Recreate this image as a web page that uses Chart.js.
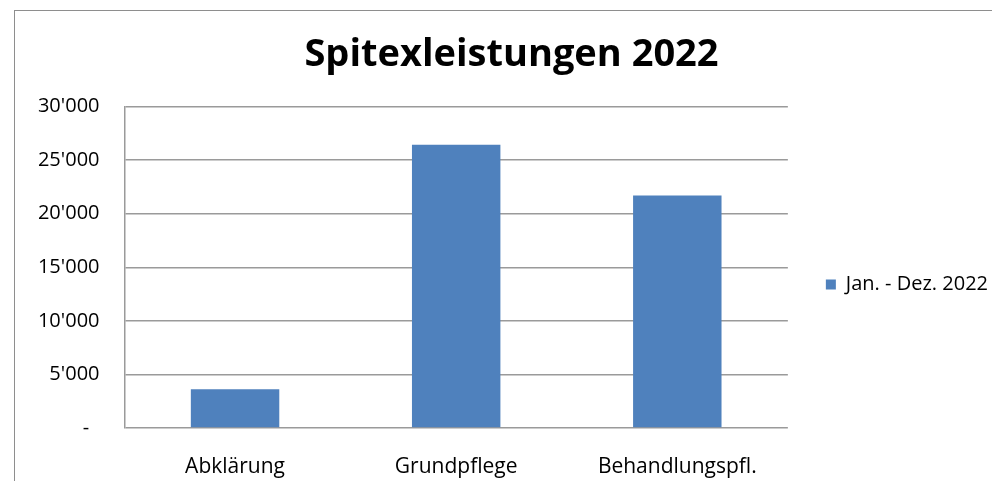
<!DOCTYPE html>
<html>
<head>
<meta charset="utf-8">
<script src="https://cdn.jsdelivr.net/npm/chart.js@4.4.1/dist/chart.umd.min.js"></script>
<style>
  html, body { margin: 0; padding: 0; background: #fff; overflow: hidden; }
  #frame { position: absolute; left: 14px; top: 10px; width: 1000px; height: 500px; border: 1px solid #8e8e8e; }
  #wrap { position: absolute; left: 0; top: 0; width: 1026px; height: 481px; }
</style>
</head>
<body>
<div id="frame"></div>
<div id="wrap"><canvas id="chart"></canvas></div>
<script>
const categories = ["Abklärung", "Grundpflege", "Behandlungspfl."];
const seriesLabel = "Jan. - Dez. 2022";
const values = [3620, 26450, 21700];
const yTicks = [0, 5000, 10000, 15000, 20000, 25000, 30000];

function formatThousands(v) {
    if (v === 0) return "-  ";
    return String(v).replace(/\B(?=(\d{3})+(?!\d))/g, "'");
}

const fontFamily = "'Open Sans', 'Noto Sans', sans-serif";

new Chart(document.getElementById("chart"), {
    type: "bar",
    data: {
        labels: categories,
        datasets: [{
            label: seriesLabel,
            data: values,
            backgroundColor: "#4f81bd",
            borderWidth: 0,
            barPercentage: 0.4,
            categoryPercentage: 1
        }]
    },
    options: {
        responsive: true,
        maintainAspectRatio: false,
        animation: false,
        layout: { padding: { left: 25, right: 28, top: 0, bottom: 0 } },
        plugins: {
            title: {
                display: true,
                text: "Spitexleistungen 2022",
                color: "#000",
                font: { family: fontFamily, size: 38, weight: "bold" },
                padding: { top: 32, bottom: 29 }
            },
            legend: {
                position: "right",
                // empty legend title only pushes the entry down to its place
                title: {
                    display: true,
                    text: " ",
                    font: { family: fontFamily, size: 10 },
                    padding: { top: 0, bottom: 76 }
                },
                labels: {
                    color: "#000",
                    boxWidth: 10,
                    boxHeight: 10,
                    padding: 38,
                    font: { family: fontFamily, size: 20 }
                }
            },
            tooltip: { enabled: false }
        },
        scales: {
            x: {
                grid: { display: false },
                border: { display: false },
                afterFit: axis => { axis.height = 53; },
                ticks: { color: "#000", padding: 18, font: { family: fontFamily, size: 21 } }
            },
            y: {
                min: 0,
                max: 30000,
                afterBuildTicks: axis => { axis.ticks = yTicks.map(v => ({ value: v })); },
                afterFit: axis => { axis.width = 99.5; },
                grid: { color: "#9a9a9a", lineWidth: 1.5, drawTicks: false },
                border: { display: true, color: "#9a9a9a", width: 1.5 },
                ticks: {
                    color: "#000",
                    padding: 25,
                    font: { family: fontFamily, size: 20 },
                    callback: v => formatThousands(v)
                }
            }
        }
    }
});
</script>
</body>
</html>
